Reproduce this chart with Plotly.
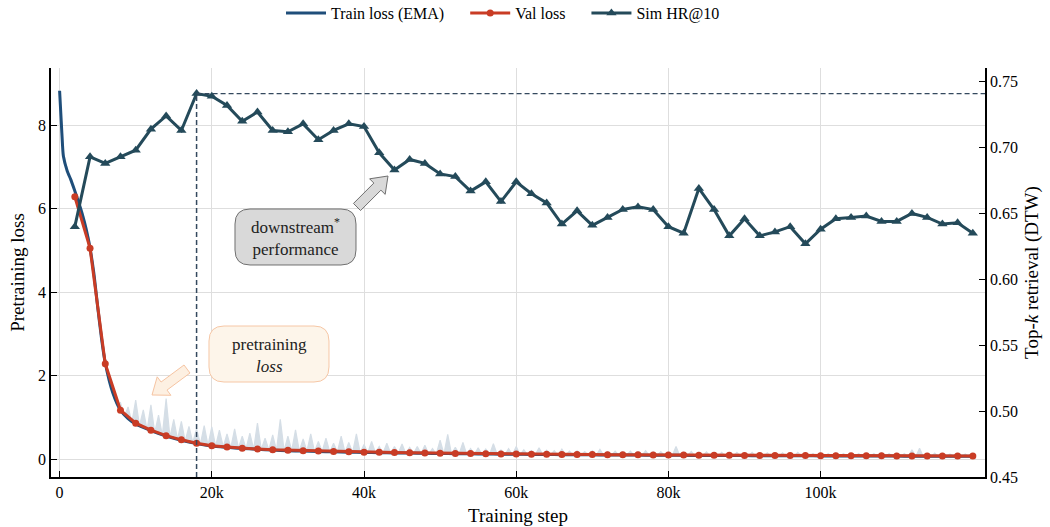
import numpy as np
import plotly.graph_objects as go

# ---------------- data ----------------
raw_steps = np.arange(0, 120001, 500)
raw_loss = [
    8.82, 7.35, 6.95, 6.6, 6.45, 6.15, 5.95, 5.5, 5.2, 4.45,
    3.75, 2.85, 2.45, 1.85, 1.7, 1.3, 1.35, 1.02, 1.25, 0.88,
    1.41, 0.8, 1.18, 0.7, 1.3, 0.63, 1.05, 0.57, 1.45, 0.52,
    0.95, 0.47, 0.9, 0.43, 0.78, 0.4, 0.72, 0.36, 0.8, 0.33,
    0.77, 0.31, 0.69, 0.29, 0.6, 0.27, 0.72, 0.26, 0.55, 0.25,
    0.62, 0.24, 0.86, 0.23, 0.5, 0.22, 0.58, 0.21, 0.95, 0.2,
    0.55, 0.2, 0.7, 0.19, 0.48, 0.19, 0.6, 0.18, 0.42, 0.18,
    0.5, 0.17, 0.38, 0.17, 0.55, 0.16, 0.4, 0.16, 0.6, 0.15,
    0.35, 0.15, 0.42, 0.15, 0.3, 0.14, 0.38, 0.14, 0.3, 0.14,
    0.36, 0.13, 0.28, 0.13, 0.3, 0.13, 0.33, 0.12, 0.25, 0.12,
    0.45, 0.12, 0.59, 0.12, 0.28, 0.12, 0.4, 0.11, 0.25, 0.11,
    0.27, 0.11, 0.24, 0.11, 0.37, 0.11, 0.22, 0.1, 0.25, 0.1,
    0.3, 0.1, 0.22, 0.1, 0.2, 0.1, 0.27, 0.1, 0.21, 0.1,
    0.2, 0.095, 0.24, 0.095, 0.19, 0.09, 0.2, 0.09, 0.18, 0.09,
    0.2, 0.09, 0.23, 0.09, 0.18, 0.085, 0.19, 0.085, 0.17, 0.085,
    0.19, 0.085, 0.17, 0.08, 0.2, 0.08, 0.17, 0.08, 0.18, 0.08,
    0.17, 0.08, 0.3, 0.08, 0.16, 0.075, 0.18, 0.075, 0.16, 0.075,
    0.17, 0.075, 0.15, 0.075, 0.16, 0.07, 0.15, 0.07, 0.16, 0.07,
    0.15, 0.07, 0.16, 0.07, 0.14, 0.07, 0.15, 0.065, 0.14, 0.065,
    0.15, 0.065, 0.14, 0.065, 0.16, 0.065, 0.14, 0.065, 0.13, 0.06,
    0.14, 0.06, 0.13, 0.06, 0.15, 0.06, 0.13, 0.06, 0.14, 0.06,
    0.13, 0.06, 0.14, 0.06, 0.13, 0.055, 0.15, 0.055, 0.13, 0.055,
    0.14, 0.055, 0.13, 0.055, 0.22, 0.055, 0.26, 0.055, 0.13, 0.055,
    0.14, 0.05, 0.13, 0.05, 0.12, 0.05, 0.13, 0.05, 0.12, 0.05,
    0.1,
]

ema_steps = [0, 300, 500, 1000, 1500, 2000, 2500, 3000, 3500, 4000, 4500,
             5000, 5500, 6000, 7000, 8000, 9000, 10000] + list(range(12000, 120001, 2000))
ema_loss = [
    8.82, 7.8, 7.25, 6.9, 6.68, 6.42, 6.15, 5.85, 5.5, 5.05, 4.45,
    3.65, 2.9, 2.3, 1.58, 1.17, 0.97, 0.84,
    0.68, 0.55, 0.45, 0.37, 0.31, 0.28, 0.255, 0.235, 0.215, 0.2,
    0.19, 0.18, 0.172, 0.165, 0.158,
    0.152, 0.147, 0.142, 0.137, 0.132,
    0.128, 0.124, 0.12, 0.117, 0.114,
    0.111, 0.108, 0.105, 0.103, 0.1,
    0.098, 0.096, 0.094, 0.092, 0.09,
    0.088, 0.086, 0.085, 0.083, 0.082,
    0.08, 0.079, 0.078, 0.077, 0.075,
    0.074, 0.073, 0.072, 0.071, 0.07,
    0.069, 0.068, 0.067, 0.066, 0.065,
]

val_steps = list(range(2000, 120001, 2000))
val_loss = [
    6.28, 5.05, 2.28, 1.17, 0.86,
    0.69, 0.56, 0.46, 0.38, 0.32,
    0.29, 0.26, 0.24, 0.22, 0.21,
    0.20, 0.19, 0.18, 0.175, 0.165,
    0.16, 0.155, 0.15, 0.145, 0.14,
    0.135, 0.13, 0.127, 0.123, 0.12,
    0.117, 0.114, 0.111, 0.108, 0.106,
    0.104, 0.102, 0.1, 0.098, 0.096,
    0.094, 0.092, 0.09, 0.088, 0.087,
    0.085, 0.084, 0.083, 0.082, 0.08,
    0.079, 0.078, 0.077, 0.076, 0.075,
    0.074, 0.073, 0.072, 0.071, 0.07,
]

sim_steps = list(range(2000, 120001, 2000))
sim_hr = [
    0.640, 0.693, 0.688, 0.693, 0.698, 0.714, 0.724, 0.713, 0.741, 0.739,
    0.732, 0.720, 0.727, 0.713, 0.712, 0.718, 0.706, 0.713, 0.718, 0.716,
    0.696, 0.683, 0.691, 0.688, 0.680, 0.678, 0.667, 0.674, 0.659, 0.674,
    0.665, 0.658, 0.642, 0.652, 0.641, 0.647, 0.653, 0.655, 0.653, 0.640,
    0.635, 0.669, 0.653, 0.633, 0.646, 0.633, 0.636, 0.640, 0.627, 0.638,
    0.646, 0.647, 0.648, 0.644, 0.644, 0.650, 0.647, 0.642, 0.643, 0.635,
]

xtick_vals = [0, 20000, 40000, 60000, 80000, 100000]
xtick_text = ["0", "20k", "40k", "60k", "80k", "100k"]
ytick_vals = [0, 2, 4, 6, 8]
y2tick_vals = [0.45, 0.50, 0.55, 0.60, 0.65, 0.70, 0.75]
y2tick_text = ["0.45", "0.50", "0.55", "0.60", "0.65", "0.70", "0.75"]

# ---------------- layout constants ----------------
W, H = 1050, 527
PL, PT, PR, PB = 51, 68, 985, 477
PW, PH = PR - PL, PB - PT
XR = [-1130, 121600]
YR = [-0.43, 9.365]
Y2R = [0.45, 0.7604]

FONT = "Liberation Serif, Times New Roman, serif"
C_EMA = "#1f4e7a"
C_VAL = "#c93c25"
C_SIM = "#244a5a"
C_RAW = "#d5dee6"
C_DASH = "#34495e"
PAD = "\u00a0" * 4


def pp(x, y):
    return (x - PL) / PW, (PB - y) / PH


def rounded_rect(x0, y0, x1, y1, r):
    def P(x, y):
        a, b = pp(x, y)
        return f"{a:.5f},{b:.5f}"
    return (f"M {P(x0 + r, y0)} L {P(x1 - r, y0)} Q {P(x1, y0)} {P(x1, y0 + r)} "
            f"L {P(x1, y1 - r)} Q {P(x1, y1)} {P(x1 - r, y1)} "
            f"L {P(x0 + r, y1)} Q {P(x0, y1)} {P(x0, y1 - r)} "
            f"L {P(x0, y0 + r)} Q {P(x0, y0)} {P(x0 + r, y0)} Z")


def block_arrow(tail, tip, bw, hw, hl):
    tx, ty = tail
    hx, hy = tip
    dx, dy = hx - tx, hy - ty
    L = (dx * dx + dy * dy) ** 0.5
    ux, uy = dx / L, dy / L
    nx, ny = -uy, ux
    bx, by = hx - hl * ux, hy - hl * uy
    pts = [
        (tx + nx * bw / 2, ty + ny * bw / 2),
        (bx + nx * bw / 2, by + ny * bw / 2),
        (bx + nx * hw / 2, by + ny * hw / 2),
        (hx, hy),
        (bx - nx * hw / 2, by - ny * hw / 2),
        (bx - nx * bw / 2, by - ny * bw / 2),
        (tx - nx * bw / 2, ty - ny * bw / 2),
    ]
    conv = [pp(x, y) for x, y in pts]
    return "M " + " L ".join(f"{a:.5f},{b:.5f}" for a, b in conv) + " Z"


# ---------------- figure ----------------
fig = go.Figure()

# invisible base for the raw-loss band
fig.add_trace(go.Scatter(x=ema_steps, y=ema_loss, mode="lines",
                         line=dict(color="rgba(0,0,0,0)", width=0, shape="spline", smoothing=0.6),
                         showlegend=False, hoverinfo="skip"))
fig.add_trace(go.Scatter(x=raw_steps, y=raw_loss, mode="lines", fill="tonexty",
                         fillcolor=C_RAW, line=dict(color=C_RAW, width=1.2), showlegend=False,
                         hoverinfo="skip"))
fig.add_trace(go.Scatter(x=ema_steps, y=ema_loss, mode="lines", name="Train loss (EMA)" + PAD,
                         line=dict(color=C_EMA, width=3, shape="spline", smoothing=0.6)))
fig.add_trace(go.Scatter(x=val_steps, y=val_loss, mode="lines+markers", name="Val loss" + PAD,
                         line=dict(color=C_VAL, width=3),
                         marker=dict(symbol="circle", size=7, color=C_VAL)))
fig.add_trace(go.Scatter(x=sim_steps, y=sim_hr, mode="lines+markers", name="Sim HR@10",
                         yaxis="y2", line=dict(color=C_SIM, width=3),
                         marker=dict(symbol="triangle-up", size=9, color=C_SIM)))

best_i = int(np.argmax(sim_hr))
best_x = sim_steps[best_i]
best_y = sim_hr[best_i]

shapes = [
    dict(type="line", xref="x", yref="y2", x0=best_x, x1=best_x, y0=Y2R[0], y1=best_y,
         line=dict(color=C_DASH, width=1.5, dash="5px,3px"), layer="above"),
    dict(type="line", xref="x", yref="y2", x0=best_x, x1=XR[1], y0=best_y, y1=best_y,
         line=dict(color=C_DASH, width=1.3, dash="5px,3px"), layer="above"),
    # downstream box + arrow
    dict(type="path", xref="paper", yref="paper", path=rounded_rect(235, 209, 356, 265, 15),
         fillcolor="#d9d9d9", line=dict(color="#707070", width=1), layer="above"),
    dict(type="path", xref="paper", yref="paper",
         path=block_arrow((357, 207), (388, 176), 10, 22, 15),
         fillcolor="#d9d9d9", line=dict(color="#707070", width=1), layer="above"),
    # pretraining box + arrow
    dict(type="path", xref="paper", yref="paper", path=rounded_rect(209, 326, 329, 382, 15),
         fillcolor="#fdf5ea", line=dict(color="#f6c7a6", width=1), layer="above"),
    dict(type="path", xref="paper", yref="paper",
         path=block_arrow((187, 369), (152, 395), 10, 23, 15),
         fillcolor="#fdf0e2", line=dict(color="#f6c4a2", width=1), layer="above"),
]

a1x, a1y = pp(295.5, 237)
a2x, a2y = pp(269, 355)
annotations = [
    dict(xref="paper", yref="paper", x=a1x, y=a1y, text="downstream<sup>*</sup><br>performance",
         showarrow=False, font=dict(family=FONT, size=17, color="#222"), align="center",
         xanchor="center", yanchor="middle"),
    dict(xref="paper", yref="paper", x=a2x, y=a2y, text="pretraining<br><i>loss</i>",
         showarrow=False, font=dict(family=FONT, size=17, color="#222"), align="center",
         xanchor="center", yanchor="middle"),
]

axis_common = dict(showline=True, linecolor="black", linewidth=1.5, ticks="inside",
                   ticklen=6, tickwidth=1.2, tickcolor="black", zeroline=False,
                   tickfont=dict(family=FONT, size=16, color="black"))

fig.update_layout(
    width=W, height=H,
    margin=dict(l=PL, r=W - PR, t=PT, b=H - PB, autoexpand=False),
    paper_bgcolor="white", plot_bgcolor="white",
    font=dict(family=FONT, size=16, color="black"),
    shapes=shapes, annotations=annotations,
    legend=dict(orientation="h", traceorder="normal", x=pp(503, 0)[0], xanchor="center",
                y=pp(0, 13)[1], yanchor="middle", font=dict(family=FONT, size=16, color="black"),
                bgcolor="rgba(0,0,0,0)", itemwidth=40, tracegroupgap=0),
    xaxis=dict(range=XR, tickvals=xtick_vals, ticktext=xtick_text, showgrid=True,
               gridcolor="#dedede", gridwidth=1,
               title=dict(text="Training step", font=dict(family=FONT, size=19), standoff=9),
               **axis_common),
    yaxis=dict(range=YR, tickvals=ytick_vals, showgrid=True, gridcolor="#dedede", gridwidth=1,
               title=dict(text="Pretraining loss", font=dict(family=FONT, size=19), standoff=8),
               **axis_common),
    yaxis2=dict(range=Y2R, tickvals=y2tick_vals, ticktext=y2tick_text, overlaying="y",
                side="right", showgrid=False,
                title=dict(text="Top-<i>k</i> retrieval (DTW)", font=dict(family=FONT, size=19),
                           standoff=8),
                **axis_common),
)

fig.write_html("out.html", config={"displayModeBar": False},
               post_script="document.body.style.margin='0';")
